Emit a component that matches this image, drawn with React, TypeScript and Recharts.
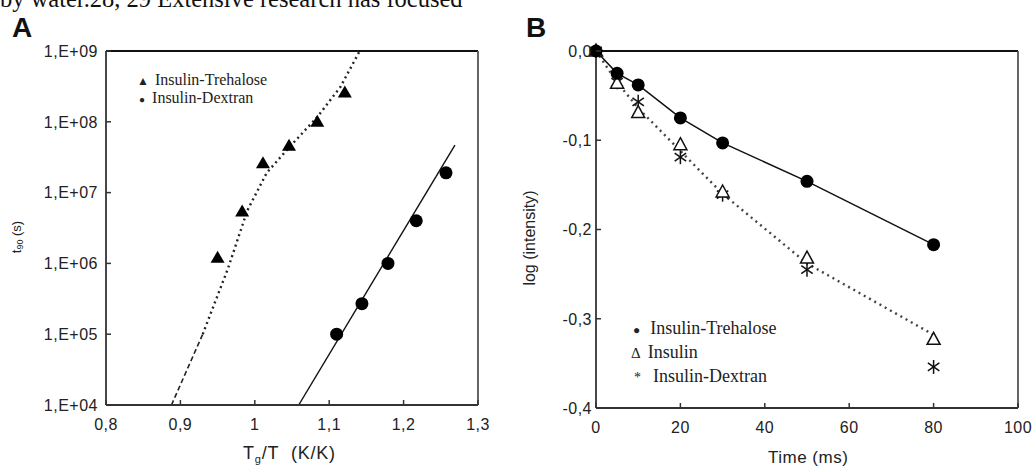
import React from "react";
import {
  ComposedChart,
  Scatter,
  Line,
  XAxis,
  YAxis,
} from "recharts";

// Panel A: t90 vs Tg/T (log scale)
const aTreX = [0.95, 0.983, 1.011, 1.046, 1.084, 1.121];
const aTreY = [1.2e6, 5.4e6, 2.6e7, 4.6e7, 1.0e8, 2.6e8];
const aDexX = [1.11, 1.144, 1.179, 1.217, 1.257];
const aDexY = [1.0e5, 2.7e5, 1.0e6, 4.0e6, 1.9e7];
const aDexFitX = [1.059, 1.269];
const aDexFitY = [1e4, 4.7e7];
const aTreDashX = [0.888, 0.93];
const aTreDashY = [1e4, 1e5];
const aTreDotX = [0.93, 0.964, 0.99, 1.016, 1.043, 1.084, 1.115, 1.141];
const aTreDotY = [1e5, 8.5e5, 5.6e6, 1.9e7, 4.0e7, 1.17e8, 3.1e8, 1e9];
const aXTicks = [0.8, 0.9, 1, 1.1, 1.2, 1.3];
const aXLabels = ["0,8", "0,9", "1", "1,1", "1,2", "1,3"];
const aYTicks = [1e4, 1e5, 1e6, 1e7, 1e8, 1e9];
const aYLabels = ["1,E+04", "1,E+05", "1,E+06", "1,E+07", "1,E+08", "1,E+09"];

// Panel B: log(intensity) vs time
const bTime = [0, 5, 10, 20, 30, 50, 80];
const bTrehalose = [0, -0.025, -0.038, -0.075, -0.103, -0.146, -0.217];
const bInsulin = [0, -0.036, -0.069, -0.105, -0.158, -0.232, -0.323];
const bDextran = [0, -0.035, -0.057, -0.119, -0.161, -0.245, -0.354];
const bInsulinFit = [0, -0.035, -0.064, -0.112, -0.16, -0.238, -0.318];
const bXTicks = [0, 20, 40, 60, 80, 100];
const bXLabels = ["0", "20", "40", "60", "80", "100"];
const bYTicks = [0, -0.1, -0.2, -0.3, -0.4];
const bYLabels = ["0,0", "-0,1", "-0,2", "-0,3", "-0,4"];

const pts = (xs: number[], ys: number[]) => xs.map((x, i) => ({ x, y: ys[i] }));

const SANS = "'Liberation Sans', Arial, sans-serif";
const SERIF = "'Liberation Serif', 'Times New Roman', serif";
const AXIS = "#333";

function labelFor(ticks: number[], labels: string[], v: number) {
  const i = ticks.findIndex((t) => Math.abs(t - v) < 1e-9 * Math.max(1, Math.abs(t)));
  return i >= 0 ? labels[i] : String(v);
}

function bottomTick(ticks: number[], labels: string[], margin: number) {
  return (props: any) => {
    const { x, y, payload } = props;
    const axisY = y - margin;
    return (
      <g>
        <line x1={x} x2={x} y1={axisY} y2={axisY - 5} stroke={AXIS} strokeWidth={1.5} />
        <text x={x} y={y} dy="0.75em" textAnchor="middle" fontFamily={SANS} fontSize={16} fill="#222" letterSpacing={0.5}>
          {labelFor(ticks, labels, payload.value)}
        </text>
      </g>
    );
  };
}

function leftTick(ticks: number[], labels: string[], margin: number) {
  return (props: any) => {
    const { x, y, payload } = props;
    const axisX = x + margin;
    return (
      <g>
        <line x1={axisX} x2={axisX + 5} y1={y} y2={y} stroke={AXIS} strokeWidth={1.5} />
        <text x={x} y={y} dy="0.36em" textAnchor="end" fontFamily={SANS} fontSize={16} fill="#222" letterSpacing={0.5}>
          {labelFor(ticks, labels, payload.value)}
        </text>
      </g>
    );
  };
}

const FilledTri = (props: any) => {
  const { cx, cy } = props;
  return <path d={`M${cx},${cy - 7} L${cx + 7},${cy + 5} L${cx - 7},${cy + 5} Z`} fill="#000" />;
};

const OpenTri = (props: any) => {
  const { cx, cy } = props;
  return (
    <path
      d={`M${cx},${cy - 7} L${cx + 6.5},${cy + 5} L${cx - 6.5},${cy + 5} Z`}
      fill="#fff"
      stroke="#111"
      strokeWidth={1.5}
    />
  );
};

const Dot = (props: any) => {
  const { cx, cy } = props;
  return <circle cx={cx} cy={cy} r={6.5} fill="#000" />;
};

const Asterisk = (props: any) => {
  const { cx, cy } = props;
  const r = 7;
  const arms = [90, 35, 145].map((deg) => {
    const a = (deg * Math.PI) / 180;
    return { dx: r * Math.cos(a), dy: r * Math.sin(a) };
  });
  return (
    <g stroke="#111" strokeWidth={1.5}>
      {arms.map((m, i) => (
        <line key={i} x1={cx - m.dx} y1={cy - m.dy} x2={cx + m.dx} y2={cy + m.dy} />
      ))}
    </g>
  );
};

function PanelA() {
  return (
    <ComposedChart
      width={500}
      height={472}
      margin={{ top: 50, right: 21, bottom: 27, left: 0 }}
    >
      <XAxis
        dataKey="x"
        type="number"
        domain={[0.8, 1.3]}
        ticks={aXTicks}
        allowDataOverflow
        height={40}
        tickSize={0}
        tickMargin={13}
        tick={bottomTick(aXTicks, aXLabels, 13)}
        axisLine={{ stroke: AXIS, strokeWidth: 1.8 }}
        tickLine={false}
      />
      <XAxis xAxisId="top" orientation="top" type="number" domain={[0.8, 1.3]} height={1} tick={false} tickLine={false} axisLine={{ stroke: "#111", strokeWidth: 1.8 }} />
      <YAxis
        dataKey="y"
        type="number"
        scale="log"
        domain={[1e4, 1e9]}
        ticks={aYTicks}
        allowDataOverflow
        width={106}
        tickSize={0}
        tickMargin={8}
        tick={leftTick(aYTicks, aYLabels, 8)}
        axisLine={{ stroke: AXIS, strokeWidth: 1.8 }}
        tickLine={false}
      />
      <YAxis yAxisId="right" orientation="right" width={1} tick={false} tickLine={false} axisLine={{ stroke: "#555", strokeWidth: 1.8 }} />
      <Line data={pts(aTreDashX, aTreDashY)} dataKey="y" stroke="#222" strokeWidth={1.6} strokeDasharray="5 3" dot={false} isAnimationActive={false} />
      <Line data={pts(aTreDotX, aTreDotY)} dataKey="y" stroke="#222" strokeWidth={2.4} strokeDasharray="2 3.5" dot={false} isAnimationActive={false} />
      <Line data={pts(aDexFitX, aDexFitY)} dataKey="y" stroke="#111" strokeWidth={1.4} dot={false} isAnimationActive={false} />
      <Scatter data={pts(aTreX, aTreY)} shape={FilledTri} isAnimationActive={false} />
      <Scatter data={pts(aDexX, aDexY)} shape={Dot} isAnimationActive={false} />
    </ComposedChart>
  );
}

function PanelB() {
  return (
    <ComposedChart
      width={536}
      height={472}
      margin={{ top: 50, right: 17, bottom: 24, left: 0 }}
    >
      <XAxis
        dataKey="x"
        type="number"
        domain={[0, 100]}
        ticks={bXTicks}
        height={40}
        tickSize={0}
        tickMargin={13}
        tick={bottomTick(bXTicks, bXLabels, 13)}
        axisLine={{ stroke: AXIS, strokeWidth: 1.8 }}
        tickLine={false}
      />
      <XAxis xAxisId="top" orientation="top" type="number" domain={[0, 100]} height={1} tick={false} tickLine={false} axisLine={{ stroke: "#111", strokeWidth: 1.8 }} />
      <YAxis
        dataKey="y"
        type="number"
        domain={[-0.4, 0]}
        ticks={bYTicks}
        width={96}
        tickSize={0}
        tickMargin={4}
        tick={leftTick(bYTicks, bYLabels, 4)}
        axisLine={{ stroke: AXIS, strokeWidth: 1.8 }}
        tickLine={false}
      />
      <YAxis yAxisId="right" orientation="right" width={1} tick={false} tickLine={false} axisLine={{ stroke: "#555", strokeWidth: 1.8 }} />
      <Line data={pts(bTime, bInsulinFit)} dataKey="y" stroke="#444" strokeWidth={2.4} strokeDasharray="2 4" dot={false} isAnimationActive={false} />
      <Line data={pts(bTime, bTrehalose)} dataKey="y" stroke="#111" strokeWidth={1.5} dot={false} isAnimationActive={false} />
      <Scatter data={pts(bTime, bDextran)} shape={Asterisk} isAnimationActive={false} />
      <Scatter data={pts(bTime, bInsulin)} shape={OpenTri} isAnimationActive={false} />
      <Scatter data={pts(bTime, bTrehalose)} shape={Dot} isAnimationActive={false} />
    </ComposedChart>
  );
}

const abs = (left: number, top: number, extra: React.CSSProperties = {}): React.CSSProperties => ({
  position: "absolute",
  left,
  top,
  whiteSpace: "nowrap",
  lineHeight: 1,
  ...extra,
});

export default function App() {
  return (
    <div style={{ position: "fixed", left: 0, top: 0, width: 1036, height: 472, background: "#fff", overflow: "hidden" }}>
      <div style={abs(0, -13, { fontFamily: SERIF, fontSize: 24.5, color: "#111" })}>
        by water.28, 29 Extensive research has focused
      </div>
      <div style={abs(12, 14, { fontFamily: SANS, fontSize: 28, fontWeight: 700, color: "#111" })}>A</div>
      <div style={abs(526, 14, { fontFamily: SANS, fontSize: 28, fontWeight: 700, color: "#111" })}>B</div>

      <div style={abs(0, 0)}>
        <PanelA />
      </div>
      <div style={abs(500, 0)}>
        <PanelB />
      </div>

      {/* panel A legend */}
      <div style={abs(137, 72, { fontFamily: SERIF, fontSize: 16, color: "#222" })}>
        <span style={{ fontSize: 12, marginRight: 6 }}>▲</span>Insulin-Trehalose
      </div>
      <div style={abs(139, 90, { fontFamily: SERIF, fontSize: 16, color: "#222" })}>
        <span style={{ fontSize: 10, marginRight: 7 }}>●</span>Insulin-Dextran
      </div>

      {/* panel B legend */}
      <div style={abs(633, 319, { fontFamily: SERIF, fontSize: 18, color: "#222" })}>
        <span style={{ fontSize: 12, marginRight: 10 }}>●</span>Insulin-Trehalose
      </div>
      <div style={abs(631, 343, { fontFamily: SERIF, fontSize: 18, color: "#222" })}>
        <span style={{ fontSize: 15, marginRight: 7 }}>Δ</span>Insulin
      </div>
      <div style={abs(634, 367, { fontFamily: SERIF, fontSize: 18, color: "#222" })}>
        <span style={{ fontSize: 14, marginRight: 12 }}>*</span>Insulin-Dextran
      </div>

      {/* axis titles */}
      <div style={abs(243, 444, { fontFamily: SANS, fontSize: 18, color: "#222", letterSpacing: 0.8 })}>
        T<sub style={{ fontSize: 11, verticalAlign: "-4px" }}>g</sub>/T&nbsp; (K/K)
      </div>
      <div style={abs(768, 449, { fontFamily: SANS, fontSize: 17, color: "#222", letterSpacing: 0.5 })}>
        Time (ms)
      </div>
      <div
        style={abs(17, 237, {
          fontFamily: SANS,
          fontSize: 13,
          color: "#222",
          transform: "translate(-50%, -50%) rotate(-90deg)",
        })}
      >
        t<sub style={{ fontSize: 9, verticalAlign: "-2px" }}>90</sub> (s)
      </div>
      <div
        style={abs(530, 238, {
          fontFamily: SANS,
          fontSize: 16,
          color: "#222",
          transform: "translate(-50%, -50%) rotate(-90deg)",
        })}
      >
        log (intensity)
      </div>
    </div>
  );
}
